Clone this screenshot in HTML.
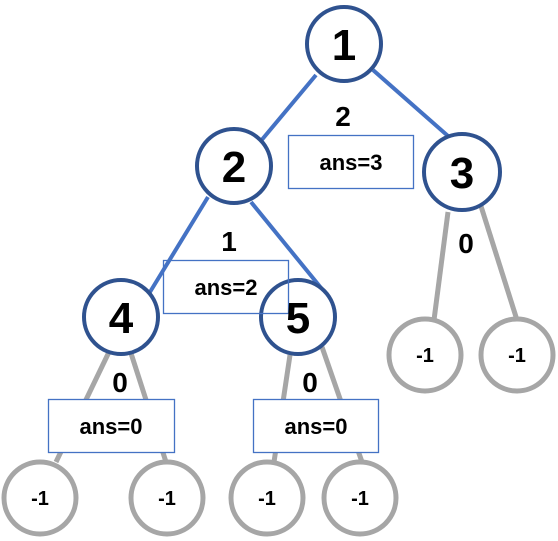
<!DOCTYPE html>
<html><head><style>html,body{margin:0;padding:0;background:#fff}svg{display:block}text{font-family:"Liberation Sans",sans-serif;font-weight:bold;text-anchor:middle;fill:#000}</style></head>
<body>
<svg width="558" height="541" viewBox="0 0 558 541">
<g stroke="#4472c4" stroke-width="4">
<line x1="316" y1="75" x2="260" y2="142"/>
<line x1="373" y1="70" x2="448" y2="136"/>
<line x1="208" y1="197" x2="150" y2="292"/>
<line x1="251" y1="202" x2="326" y2="294"/>
</g>
<g stroke="#a6a6a6" stroke-width="5">
<line x1="109" y1="352" x2="56" y2="462"/>
<line x1="129" y1="347" x2="166" y2="462"/>
<line x1="290" y1="355" x2="274" y2="462"/>
<line x1="322" y1="347" x2="362" y2="462"/>
<line x1="448" y1="212" x2="434" y2="320"/>
<line x1="480" y1="203" x2="517" y2="320"/>
</g>
<g fill="#fff" stroke="#a6a6a6" stroke-width="5">
<circle cx="425" cy="355" r="36"/>
<circle cx="517" cy="355" r="36"/>
<circle cx="40" cy="498" r="36"/>
<circle cx="167" cy="498" r="36"/>
<circle cx="267" cy="498" r="36"/>
<circle cx="360" cy="498" r="36"/>
</g>
<g fill="#fff" stroke="#2f528f" stroke-width="4">
<circle cx="344" cy="44" r="37"/>
<circle cx="234" cy="166" r="37"/>
<circle cx="462" cy="172" r="38"/>
<circle cx="121" cy="317" r="37"/>
<circle cx="298" cy="317" r="37"/>
</g>
<g stroke="#4472c4" stroke-width="1.3">
<rect x="288.5" y="135.5" width="125" height="53" fill="#fff"/>
<rect x="163.5" y="260.5" width="125" height="53" fill="none"/>
<rect x="48.5" y="399.5" width="126" height="53" fill="#fff"/>
<rect x="253.5" y="399.5" width="125" height="53" fill="#fff"/>
</g>
<g font-size="44">
<text x="344" y="60">1</text>
<text x="234" y="182">2</text>
<text x="462" y="188">3</text>
<text x="121" y="333">4</text>
<text x="298" y="333">5</text>
</g>
<g font-size="28">
<text x="343" y="126">2</text>
<text x="229" y="251">1</text>
<text x="466" y="253">0</text>
<text x="120" y="392">0</text>
<text x="310" y="392">0</text>
</g>
<g font-size="22">
<text x="351" y="170">ans=3</text>
<text x="226" y="295">ans=2</text>
<text x="111" y="434">ans=0</text>
<text x="316" y="434">ans=0</text>
</g>
<g font-size="20">
<text x="425" y="362">-1</text>
<text x="517" y="362">-1</text>
<text x="40" y="505">-1</text>
<text x="167" y="505">-1</text>
<text x="267" y="505">-1</text>
<text x="360" y="505">-1</text>
</g>
</svg>
</body></html>
